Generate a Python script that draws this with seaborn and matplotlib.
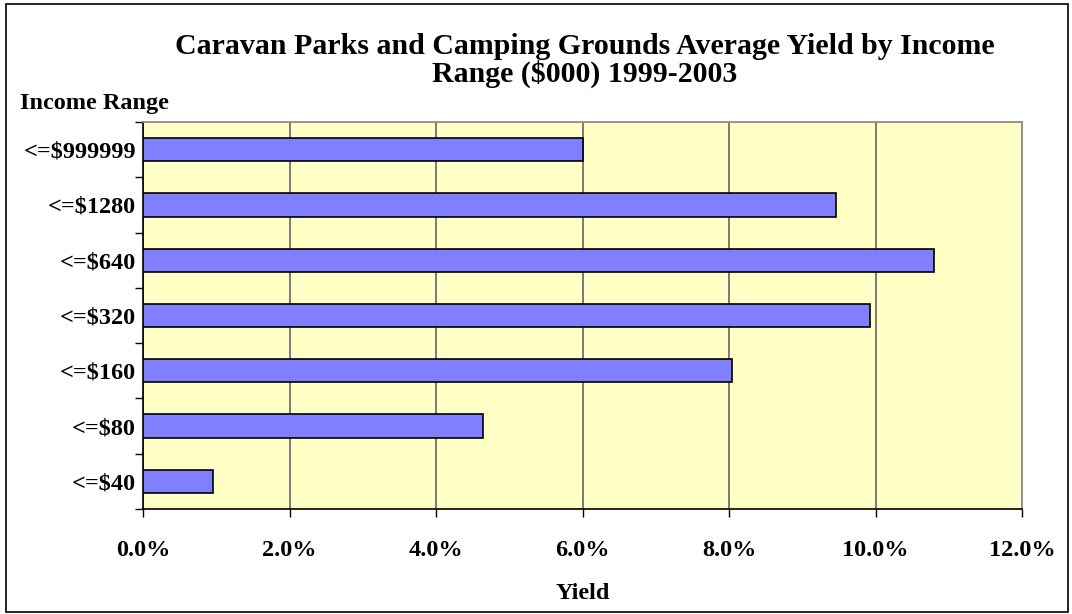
import matplotlib.pyplot as plt
import matplotlib.ticker as mticker
import numpy as np
import pandas as pd
import seaborn as sns

# data, top to bottom as drawn
income_ranges = ['<=$999999', '<=$1280', '<=$640', '<=$320', '<=$160', '<=$80', '<=$40']
yield_pct = [6.00, 9.46, 10.80, 9.92, 8.04, 4.64, 0.96]
x_ticks = [0, 2, 4, 6, 8, 10, 12]

df = pd.DataFrame({'range': income_ranges, 'yield': yield_pct})

sns.set_style('white')
plt.rcParams['font.family'] = ['Liberation Serif', 'DejaVu Serif']
plt.rcParams['font.weight'] = 'bold'
plt.rcParams['text.color'] = 'black'
plt.rcParams['axes.labelcolor'] = 'black'
plt.rcParams['xtick.color'] = 'black'
plt.rcParams['ytick.color'] = 'black'

fig = plt.figure(figsize=(10.72, 6.14), dpi=100, facecolor='white')
ax = fig.add_axes([143 / 1072, 1 - 509 / 614, (1022 - 143) / 1072, (509 - 122) / 614])
ax.set_facecolor('#FFFFC6')

sns.barplot(data=df, x='yield', y='range', orient='h', order=income_ranges, color='#8080FF',
            saturation=1, edgecolor='black', linewidth=1.2, width=0.42, ax=ax, zorder=3)

ax.set_xlim(0, 12)
ax.set_ylim(len(income_ranges) - 0.5, -0.5)
ax.set_xticks(x_ticks)
ax.xaxis.set_major_formatter(mticker.FuncFormatter(lambda v, p: f'{v:.1f}%'))
ax.grid(axis='x', color='#6f6f6f', linewidth=1.3, zorder=0)
ax.set_axisbelow(True)

# tick marks between categories, like the original
ax.set_yticks(np.arange(-0.5, len(income_ranges)), minor=True)
ax.tick_params(axis='y', which='major', length=0, pad=5, labelsize=17.5)
ax.tick_params(axis='y', which='minor', length=6, width=1, direction='out', color='black', left=True)
ax.tick_params(axis='x', which='major', length=6, width=1, direction='out', color='black', bottom=True,
               pad=16, labelsize=17.5)
for lbl in ax.get_xticklabels() + ax.get_yticklabels():
    lbl.set_fontweight('bold')

for s in ['top', 'right']:
    ax.spines[s].set_color('#8c8c8c')
    ax.spines[s].set_linewidth(1.3)
for s in ['left', 'bottom']:
    ax.spines[s].set_color('black')
    ax.spines[s].set_linewidth(1.2)

ax.set_xlabel('Yield', fontsize=17.5, fontweight='bold', color='black', labelpad=16)
ax.set_ylabel('')

fig.text(585 / 1072, 1 - 46 / 614, 'Caravan Parks and Camping Grounds Average Yield by Income',
         ha='center', va='center', fontsize=21.5, fontweight='bold')
fig.text(585 / 1072, 1 - 74 / 614, 'Range ($000) 1999-2003',
         ha='center', va='center', fontsize=21.5, fontweight='bold')
fig.text(20 / 1072, 1 - 103 / 614, 'Income Range', ha='left', va='center', fontsize=17.5, fontweight='bold')

# outer chart border
fig.patches.append(plt.Rectangle((6 / 1072, 2 / 614), 1062 / 1072, 608 / 614, transform=fig.transFigure,
                                 fill=False, edgecolor='black', linewidth=1.2))

plt.savefig('out.png', dpi=100, facecolor='white')
